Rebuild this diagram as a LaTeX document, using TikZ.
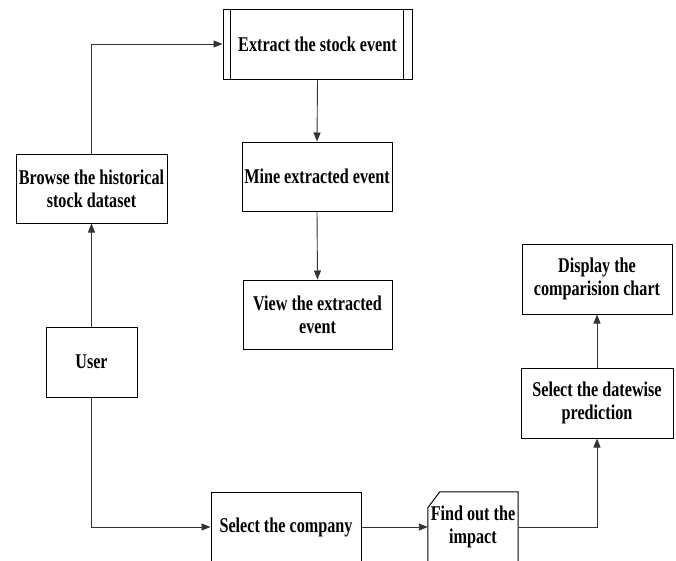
\documentclass[tikz,border=0pt]{standalone}
\usepackage{fontspec}
\setmainfont{Liberation Serif}[FakeStretch=0.77]
\usetikzlibrary{arrows.meta}
\tikzset{
  box/.style={draw=black, line width=1pt, rectangle, align=center, inner sep=0pt,
    font=\fontsize{21}{23}\selectfont\bfseries},
  plain/.style={draw=none, rectangle, align=center, inner sep=0pt,
    font=\fontsize{21}{23}\selectfont\bfseries},
  conn/.style={draw=black!80, line width=0.9pt, -{Triangle[length=9pt,width=7pt]}},
  edge/.style={draw=black, line width=1pt}
}
\begin{document}
\begin{tikzpicture}[x=1pt,y=-1pt]
\useasboundingbox (0,0) rectangle (676,560);
\clip (0,0) rectangle (676,560);
\node[box, minimum width=189pt, minimum height=70pt] (extract) at (317.5,44) {Extract the stock event};
\draw[edge] ([xshift=8pt]extract.north west) -- ([xshift=8pt]extract.south west);
\draw[edge] ([xshift=-9pt]extract.north east) -- ([xshift=-9pt]extract.south east);
\node[box, minimum width=151pt, minimum height=69pt] (browse) at (91.5,188.5) {Browse the historical\\stock dataset};
\node[box, minimum width=150pt, minimum height=69pt] (mine) at (317,176.5) {Mine extracted event};
\node[box, minimum width=149pt, minimum height=69pt] (view) at (317.5,314.5) {View the extracted\\event};
\node[box, minimum width=91pt, minimum height=70pt] (user) at (91.5,362) {User};
\node[box, minimum width=150pt, minimum height=70pt] (company) at (286,527) {Select the company};
\node[plain, minimum width=90pt, minimum height=70pt] (find) at (473,527) {Find out the\\impact};
\draw[edge] ([xshift=12pt]find.north west) -- (find.north east) -- (find.south east) -- (find.south west) -- ([yshift=-16pt]find.north west) -- cycle;
\node[box, minimum width=152pt, minimum height=70pt] (datewise) at (597,403) {Select the datewise\\prediction};
\node[box, minimum width=150pt, minimum height=70pt] (display) at (597,279) {Display the\\comparision chart};
\draw[conn] (browse.north) |- (extract.west);
\draw[conn] (extract.south) -- (mine.north);
\draw[conn] (mine.south) -- (view.north);
\draw[conn] (user.north) -- (browse.south);
\draw[conn] (user.south) |- (company.west);
\draw[conn] (company.east) -- (find.west);
\draw[conn] (find.east) -| (datewise.south);
\draw[conn] (datewise.north) -- (display.south);
\end{tikzpicture}
\end{document}
